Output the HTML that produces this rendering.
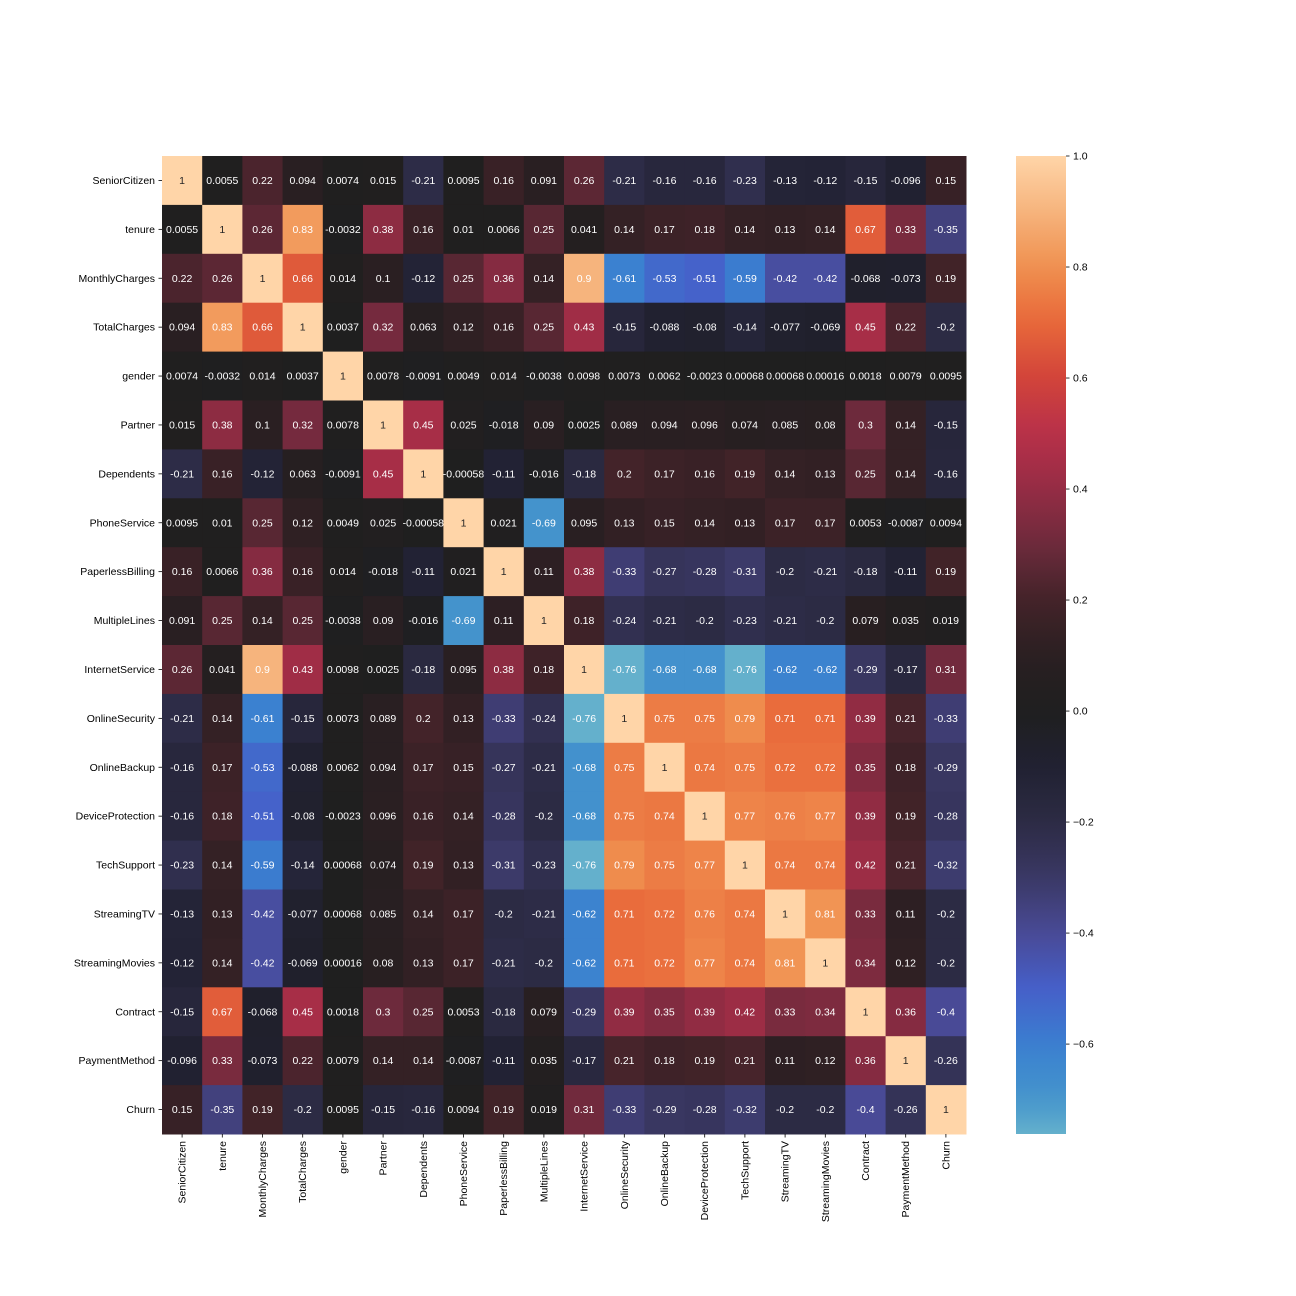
<!DOCTYPE html>
<html><head><meta charset="utf-8"><style>body{margin:0;background:#fff}svg{display:block;font-family:"Liberation Sans","DejaVu Sans",sans-serif}</style></head>
<body>
<svg id="chart" width="1296" height="1296" xmlns="http://www.w3.org/2000/svg"></svg>
<script>
const labels = ["SeniorCitizen","tenure","MonthlyCharges","TotalCharges","gender","Partner","Dependents","PhoneService","PaperlessBilling","MultipleLines","InternetService","OnlineSecurity","OnlineBackup","DeviceProtection","TechSupport","StreamingTV","StreamingMovies","Contract","PaymentMethod","Churn"];
const row0 = [1,0.0055,0.22,0.094,0.0074,0.015,-0.21,0.0095,0.16,0.091,0.26,-0.21,-0.16,-0.16,-0.23,-0.13,-0.12,-0.15,-0.096,0.15];
const row1 = [0.0055,1,0.26,0.83,-0.0032,0.38,0.16,0.01,0.0066,0.25,0.041,0.14,0.17,0.18,0.14,0.13,0.14,0.67,0.33,-0.35];
const row2 = [0.22,0.26,1,0.66,0.014,0.1,-0.12,0.25,0.36,0.14,0.9,-0.61,-0.53,-0.51,-0.59,-0.42,-0.42,-0.068,-0.073,0.19];
const row3 = [0.094,0.83,0.66,1,0.0037,0.32,0.063,0.12,0.16,0.25,0.43,-0.15,-0.088,-0.08,-0.14,-0.077,-0.069,0.45,0.22,-0.2];
const row4 = [0.0074,-0.0032,0.014,0.0037,1,0.0078,-0.0091,0.0049,0.014,-0.0038,0.0098,0.0073,0.0062,-0.0023,0.00068,0.00068,0.00016,0.0018,0.0079,0.0095];
const row5 = [0.015,0.38,0.1,0.32,0.0078,1,0.45,0.025,-0.018,0.09,0.0025,0.089,0.094,0.096,0.074,0.085,0.08,0.3,0.14,-0.15];
const row6 = [-0.21,0.16,-0.12,0.063,-0.0091,0.45,1,-0.00058,-0.11,-0.016,-0.18,0.2,0.17,0.16,0.19,0.14,0.13,0.25,0.14,-0.16];
const row7 = [0.0095,0.01,0.25,0.12,0.0049,0.025,-0.00058,1,0.021,-0.69,0.095,0.13,0.15,0.14,0.13,0.17,0.17,0.0053,-0.0087,0.0094];
const row8 = [0.16,0.0066,0.36,0.16,0.014,-0.018,-0.11,0.021,1,0.11,0.38,-0.33,-0.27,-0.28,-0.31,-0.2,-0.21,-0.18,-0.11,0.19];
const row9 = [0.091,0.25,0.14,0.25,-0.0038,0.09,-0.016,-0.69,0.11,1,0.18,-0.24,-0.21,-0.2,-0.23,-0.21,-0.2,0.079,0.035,0.019];
const row10 = [0.26,0.041,0.9,0.43,0.0098,0.0025,-0.18,0.095,0.38,0.18,1,-0.76,-0.68,-0.68,-0.76,-0.62,-0.62,-0.29,-0.17,0.31];
const row11 = [-0.21,0.14,-0.61,-0.15,0.0073,0.089,0.2,0.13,-0.33,-0.24,-0.76,1,0.75,0.75,0.79,0.71,0.71,0.39,0.21,-0.33];
const row12 = [-0.16,0.17,-0.53,-0.088,0.0062,0.094,0.17,0.15,-0.27,-0.21,-0.68,0.75,1,0.74,0.75,0.72,0.72,0.35,0.18,-0.29];
const row13 = [-0.16,0.18,-0.51,-0.08,-0.0023,0.096,0.16,0.14,-0.28,-0.2,-0.68,0.75,0.74,1,0.77,0.76,0.77,0.39,0.19,-0.28];
const row14 = [-0.23,0.14,-0.59,-0.14,0.00068,0.074,0.19,0.13,-0.31,-0.23,-0.76,0.79,0.75,0.77,1,0.74,0.74,0.42,0.21,-0.32];
const row15 = [-0.13,0.13,-0.42,-0.077,0.00068,0.085,0.14,0.17,-0.2,-0.21,-0.62,0.71,0.72,0.76,0.74,1,0.81,0.33,0.11,-0.2];
const row16 = [-0.12,0.14,-0.42,-0.069,0.00016,0.08,0.13,0.17,-0.21,-0.2,-0.62,0.71,0.72,0.77,0.74,0.81,1,0.34,0.12,-0.2];
const row17 = [-0.15,0.67,-0.068,0.45,0.0018,0.3,0.25,0.0053,-0.18,0.079,-0.29,0.39,0.35,0.39,0.42,0.33,0.34,1,0.36,-0.4];
const row18 = [-0.096,0.33,-0.073,0.22,0.0079,0.14,0.14,-0.0087,-0.11,0.035,-0.17,0.21,0.18,0.19,0.21,0.11,0.12,0.36,1,-0.26];
const row19 = [0.15,-0.35,0.19,-0.2,0.0095,-0.15,-0.16,0.0094,0.19,0.019,0.31,-0.33,-0.29,-0.28,-0.32,-0.2,-0.2,-0.4,-0.26,1];
const matrix = [row0,row1,row2,row3,row4,row5,row6,row7,row8,row9,row10,row11,row12,row13,row14,row15,row16,row17,row18,row19];
const cbTicks = [1.0,0.8,0.6,0.4,0.2,0.0,-0.2,-0.4,-0.6];
const cbTickLabels = ["1.0","0.8","0.6","0.4","0.2","0.0","\u22120.2","\u22120.4","\u22120.6"];
const vmin = -0.762, vmax = 1;

const stops = [[-0.76,[100,176,204]],[-0.7,[69,149,204]],[-0.6,[58,127,208]],[-0.5,[70,95,201]],[-0.4,[73,74,150]],[-0.3,[58,56,100]],[-0.2,[44,43,68]],[-0.1,[33,33,50]],[0,[31,31,31]],[0.1,[42,31,34]],[0.2,[67,35,41]],[0.3,[109,42,60]],[0.4,[149,44,68]],[0.5,[184,48,74]],[0.6,[210,68,58]],[0.7,[232,104,58]],[0.8,[240,144,79]],[0.9,[246,180,125]],[1.0,[255,213,168]]];
function color(v){
  if(v<=stops[0][0]) return 'rgb('+stops[0][1]+')';
  for(let i=1;i<stops.length;i++){
    if(v<=stops[i][0]){const a=stops[i-1],b=stops[i];const t=(v-a[0])/(b[0]-a[0]);
      return 'rgb('+a[1].map((c,k)=>Math.round(c+(b[1][k]-c)*t)).join(',')+')';}
  }
  return 'rgb('+stops[stops.length-1][1]+')';
}
const X0=162,X1=966,Y0=156,Y1=1134,n=labels.length;
const cw=(X1-X0)/n, ch=(Y1-Y0)/n;
const xPos=i=>X0+i*cw, yPos=i=>Y0+i*ch;
const cbY=v=>Y0+(vmax-v)/(vmax-vmin)*(Y1-Y0);
const svg=document.getElementById('chart');
const NS='http://www.w3.org/2000/svg';
function mk(tag,attrs,parent){const e=document.createElementNS(NS,tag);for(const k in attrs)e.setAttribute(k,attrs[k]);(parent||svg).appendChild(e);return e;}
const gCells=mk('g',{});


function fmt(v){return String(v);}
matrix.forEach((row,r)=>row.forEach((v,c)=>{
  const rect=mk('rect',{x:xPos(c),y:yPos(r),width:cw+0.5,height:ch+0.5,fill:color(v)},gCells);
  
  
  const t=mk('text',{x:xPos(c)+cw/2,y:yPos(r)+ch/2+3.5,'text-anchor':'middle','font-size':'10.5',fill:v>0.95?'#262626':'#fff'},gCells);
  t.textContent=fmt(v);
  
  
}));
labels.forEach((l,i)=>{
  const y=yPos(i)+ch/2;
  mk('line',{x1:X0-3.5,x2:X0,y1:y,y2:y,stroke:'#000','stroke-width':0.8});
  const t=mk('text',{x:X0-7,y:y+3.5,'text-anchor':'end','font-size':'10.5',fill:'#000'});
  t.textContent=l;
  
  
  const x=xPos(i)+cw/2;
  mk('line',{x1:x,x2:x,y1:Y1,y2:Y1+3.5,stroke:'#000','stroke-width':0.8});
  const t2=mk('text',{x:0,y:0,'text-anchor':'end','font-size':'10.5',fill:'#000',transform:`translate(${x+3.5},${Y1+7}) rotate(-90)`});
  t2.textContent=l;
  
  
});
// colorbar
const defs=mk('defs',{});
const grad=mk('linearGradient',{id:'cbg',x1:0,y1:0,x2:0,y2:1},defs);
for(let k=0;k<=40;k++){const v=vmax-(vmax-vmin)*k/40;mk('stop',{offset:k/40,'stop-color':color(v)},grad);}
const cb=mk('rect',{x:1016,y:Y0,width:50,height:Y1-Y0,fill:'url(#cbg)'});


cbTicks.forEach((v,i)=>{
  const y=cbY(v);
  mk('line',{x1:1066,x2:1069.5,y1:y,y2:y,stroke:'#000','stroke-width':0.8});
  const t=mk('text',{x:1073,y:y+3.5,'font-size':'10.5',fill:'#000'});
  t.textContent=cbTickLabels[i];
  
  
});
</script>
</body></html>
